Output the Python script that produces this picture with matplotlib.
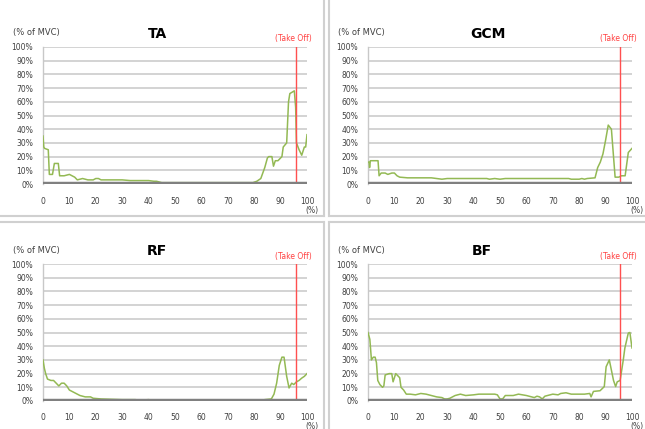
import numpy as np
import matplotlib
matplotlib.use('Agg')
import matplotlib.pyplot as plt
from matplotlib.lines import Line2D

plt.rcParams.update({'font.family': 'DejaVu Sans'})

#==============================================================================
# data: (stance %, % of MVC)
#==============================================================================
ta_pts = [(0, 35), (0.3, 27), (0.6, 26), (2.0, 25), (2.4, 7), (3.6, 7), (4.3, 15),
          (5.8, 15), (6.3, 6), (8, 6), (9, 6.5), (10, 7), (11, 6), (12, 5), (13, 3),
          (15, 4), (17, 3), (19, 3), (20, 4), (21, 4), (22, 3), (25, 3), (28, 3),
          (30, 3), (33, 2.5), (36, 2.5), (40, 2.5), (42, 2), (43, 2), (45, 1),
          (50, 1), (55, 1), (60, 1), (65, 1), (70, 1), (75, 1), (79.5, 1), (81, 2),
          (82.5, 4), (84, 12), (85, 19), (85.5, 20), (86.7, 20), (87.3, 13), (88, 17),
          (89, 17), (90.5, 20), (91, 27), (92.3, 30), (93, 60), (93.5, 66), (95.2, 68),
          (95.7, 56), (96, 30), (97, 25), (98, 21), (99, 27), (99.5, 27), (100, 36)]

gcm_pts = [(0, 16), (0.4, 16), (0.6, 12), (0.9, 17), (2, 17), (3.8, 17), (4.2, 6),
           (5, 8), (6.5, 8), (7.5, 7), (9, 8), (10, 8), (11, 6), (12, 5), (15, 4.5),
           (20, 4.5), (24, 4.5), (26, 4), (28, 3.5), (30, 4), (40, 4), (45, 4),
           (46, 3.5), (48, 4), (50, 3.5), (52, 4), (60, 4), (65, 4), (70, 4), (76, 4),
           (77, 3.5), (80, 3.5), (81, 4), (82, 3.5), (83, 4), (86, 4.5), (87, 12),
           (88, 16), (89, 22), (90, 32), (91, 43), (92.2, 40), (92.8, 25), (93.6, 5),
           (95, 5), (96, 6), (97.4, 6), (98.6, 23), (100, 26)]

rf_pts = [(0, 30), (0.5, 24), (1, 20), (1.7, 16), (3, 15), (4, 15), (5, 13), (6, 11),
          (7, 13), (8, 13), (9, 11), (10, 8), (11, 7), (12, 6), (14, 4), (16, 3),
          (18, 3), (19, 2), (22, 1.5), (30, 1), (35, 1), (36, 0.5), (40, 1), (42, 0.5),
          (50, 0.5), (60, 0.5), (70, 0.5), (80, 0.5), (83, 0.5), (84, 1), (86.5, 1.5),
          (87.5, 5), (88.5, 13), (89.5, 26), (90.5, 32), (91.3, 32), (92.3, 18),
          (93.2, 9.5), (94.2, 13), (95, 12), (96, 14), (97, 15), (98, 16.7), (99, 18),
          (100, 20)]

bf_pts = [(0, 50), (0.7, 45), (1.3, 30), (2, 32), (2.7, 32), (3.2, 28), (3.7, 15),
          (4.5, 12), (5.5, 10), (6, 11), (6.5, 19), (8, 20), (9, 20), (9.5, 14),
          (10, 17), (10.5, 20), (11.5, 18), (12, 17), (12.5, 10), (13.5, 8), (14.5, 5),
          (16, 5), (18, 4.5), (20, 5.5), (22, 5), (24, 4), (26, 3), (28, 2.5),
          (29, 1.5), (30, 1.5), (31, 2), (33, 4), (35, 5), (37, 4), (40, 4.5), (42, 5),
          (45, 5), (48, 5), (49, 4.5), (50, 1.5), (51, 1.5), (52, 4), (55, 4), (57, 5),
          (60, 4), (62, 3), (63, 2.5), (64, 3.5), (65, 3), (66, 1.5), (67, 3.5),
          (70, 5), (72, 4.5), (73, 5.5), (75, 6), (77, 5), (80, 5), (82, 5),
          (84, 5.5), (84.5, 3), (85.4, 7), (87.9, 7.5), (89.5, 10.5), (90.2, 25),
          (91.4, 30), (93, 15), (93.8, 10.5), (94.4, 14), (95.5, 15), (96.7, 30),
          (97.3, 38.7), (98.6, 49.6), (99.2, 50), (100, 38.7)]

muscles = ['TA', 'GCM', 'RF', 'BF']
series = [ta_pts, gcm_pts, rf_pts, bf_pts]
take_off = [95.8, 95.6, 95.8, 95.6]
x_ticks = list(range(0, 101, 10))
y_ticks = list(range(0, 101, 10))

#==============================================================================
# PLOTTING
#==============================================================================
W, H = 645, 429
fig = plt.figure(figsize=(W / 100, H / 100), dpi=100)

# axes boxes in pixels: left, top, right, bottom
boxes = [(43, 47, 307, 184), (368, 47, 632, 184),
         (43, 264, 307, 401), (368, 264, 632, 401)]
title_x = [157, 488, 157, 482]
unit_dy = [27, 27, 25, 25]

green = '#93b954'
txt_col = '#404040'

for i, (name, pts) in enumerate(zip(muscles, series)):
    l, t, r, b = boxes[i]
    ax = fig.add_axes([l / W, 1 - b / H, (r - l) / W, (b - t) / H])
    xs = [p[0] for p in pts]
    ys = [p[1] for p in pts]
    for v in y_ticks[1:]:
        ax.axhline(v, color='#c8c8c8', lw=1.1, zorder=1)
    ax.plot(xs, ys, color=green, lw=1.1, zorder=3)
    ax.axvline(take_off[i], color='#ff5050', lw=1.0, zorder=4)
    ax.axhline(0, color='#808080', lw=3.2, zorder=5)
    ax.set_xlim(0, 100)
    ax.set_ylim(0, 100)
    for s in ['top', 'right', 'bottom']:
        ax.spines[s].set_visible(False)
    ax.spines['left'].set_color('#c8c8c8')
    ax.spines['left'].set_linewidth(1.0)
    ax.set_xticks(x_ticks)
    ax.set_yticks(y_ticks)
    ax.set_yticklabels(['%d%%' % v for v in y_ticks])
    ax.tick_params(length=0, labelsize=5.5, colors=txt_col)
    ax.tick_params(axis='y', pad=7)
    ax.tick_params(axis='x', pad=9)
    ax.patch.set_alpha(0)

    fig.text(title_x[i] / W, 1 - (t - 13) / H, name, ha='center', va='center',
             fontsize=10, fontweight='bold', color='black')
    fig.text((l - 30) / W, 1 - (t - 14) / H, '(% of MVC)', ha='left', va='center',
             fontsize=6, color=txt_col)
    fig.text((r + 5) / W, 1 - (t - 8) / H, '(Take Off)', ha='right', va='center',
             fontsize=5.5, color='#ff4040')
    fig.text((r + 5) / W, 1 - (b + unit_dy[i]) / H, '(%)', ha='center', va='center',
             fontsize=5.5, color=txt_col)

# light panel borders
border = '#d0d0d0'
for seg in [((324, 324), (0, 216)), ((329, 329), (0, 216)),
            ((0, 324), (216, 216)), ((329, 645), (216, 216)),
            ((0, 324), (222, 222)), ((329, 645), (222, 222)),
            ((324, 324), (222, 429)), ((329, 329), (222, 429))]:
    fig.add_artist(Line2D([seg[0][0] / W, seg[0][1] / W],
                          [1 - seg[1][0] / H, 1 - seg[1][1] / H],
                          color=border, lw=1.5))

plt.savefig('out.png', dpi=100)
